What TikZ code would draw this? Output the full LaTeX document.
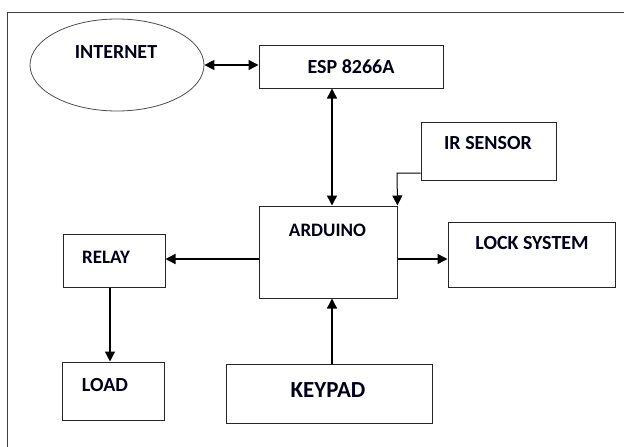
\documentclass[tikz,border=0pt]{standalone}
\usepackage{fontspec}
\setmainfont{Carlito}
\usetikzlibrary{arrows.meta,shapes.geometric}
\begin{document}
\begin{tikzpicture}[x=1pt,y=-1pt,
  box/.style={draw=black!85,line width=1pt,rectangle,inner sep=0pt},
  lbl/.style={font=\bfseries\fontsize{20}{22}\selectfont,text=black!90!blue,inner sep=0pt},
  tip/.tip={Triangle[length=10pt,width=10pt]},
  conn/.style={line width=1.4pt,-tip},
  bconn/.style={line width=1.4pt,tip-tip}]
\useasboundingbox (0,0) rectangle (624,447);
\draw[line width=1pt,black!75] (7,460) -- (7,12) -- (640,12);
% shapes
\node[ellipse,draw=black!70,line width=0.8pt,minimum width=174pt,minimum height=92pt,inner sep=0pt] (inet) at (117,65) {};
\node[box,minimum width=184pt,minimum height=43pt] (esp) at (351,66.5) {};
\node[box,minimum width=138pt,minimum height=92pt] (ard) at (328,252) {};
\node[box,minimum width=135pt,minimum height=58pt] (ir) at (488.5,151) {};
\node[box,minimum width=102pt,minimum height=53pt] (relay) at (114,260.5) {};
\node[box,minimum width=102pt,minimum height=58pt] (load) at (113,391) {};
\node[box,minimum width=206pt,minimum height=59pt] (key) at (329,393.5) {};
\node[box,minimum width=167pt,minimum height=65pt] (lock) at (531.5,254.5) {};
% labels
\node[lbl] (tinet) at (116,52) {INTERNET};
\node[lbl] (tesp) at (351,67) {ESP 8266A};
\node[lbl,font=\bfseries\fontsize{19}{21}\selectfont] (tard) at (327.5,230) {ARDUINO};
\node[lbl] (tir) at (488,143) {IR SENSOR};
\node[lbl,font=\bfseries\fontsize{19}{21}\selectfont] (trelay) at (106,257) {RELAY};
\node[lbl] (tload) at (105,385) {LOAD};
\node[lbl,font=\bfseries\fontsize{23}{25}\selectfont] (tkey) at (328,390) {KEYPAD};
\node[lbl] (tlock) at (532,243) {LOCK SYSTEM};
% connectors
\draw[bconn] (inet.east) -- (esp.west |- inet.east);
\draw[bconn] (esp.south -| 332,0) -- (ard.north -| 332,0);
\coordinate (irbend) at (397,173);
\draw[line width=1pt,-tip] (ir.west |- irbend) -- (irbend) -- (ard.north east);
\draw[conn] (ard.west |- 0,259) -- (relay.east |- 0,259);
\draw[conn] (relay.south -| 110,0) -- (load.north -| 110,0);
\draw[conn] (key.north -| 332,0) -- (ard.south -| 332,0);
\draw[conn] (ard.east |- 0,259) -- (lock.west |- 0,259);
\end{tikzpicture}
\end{document}
